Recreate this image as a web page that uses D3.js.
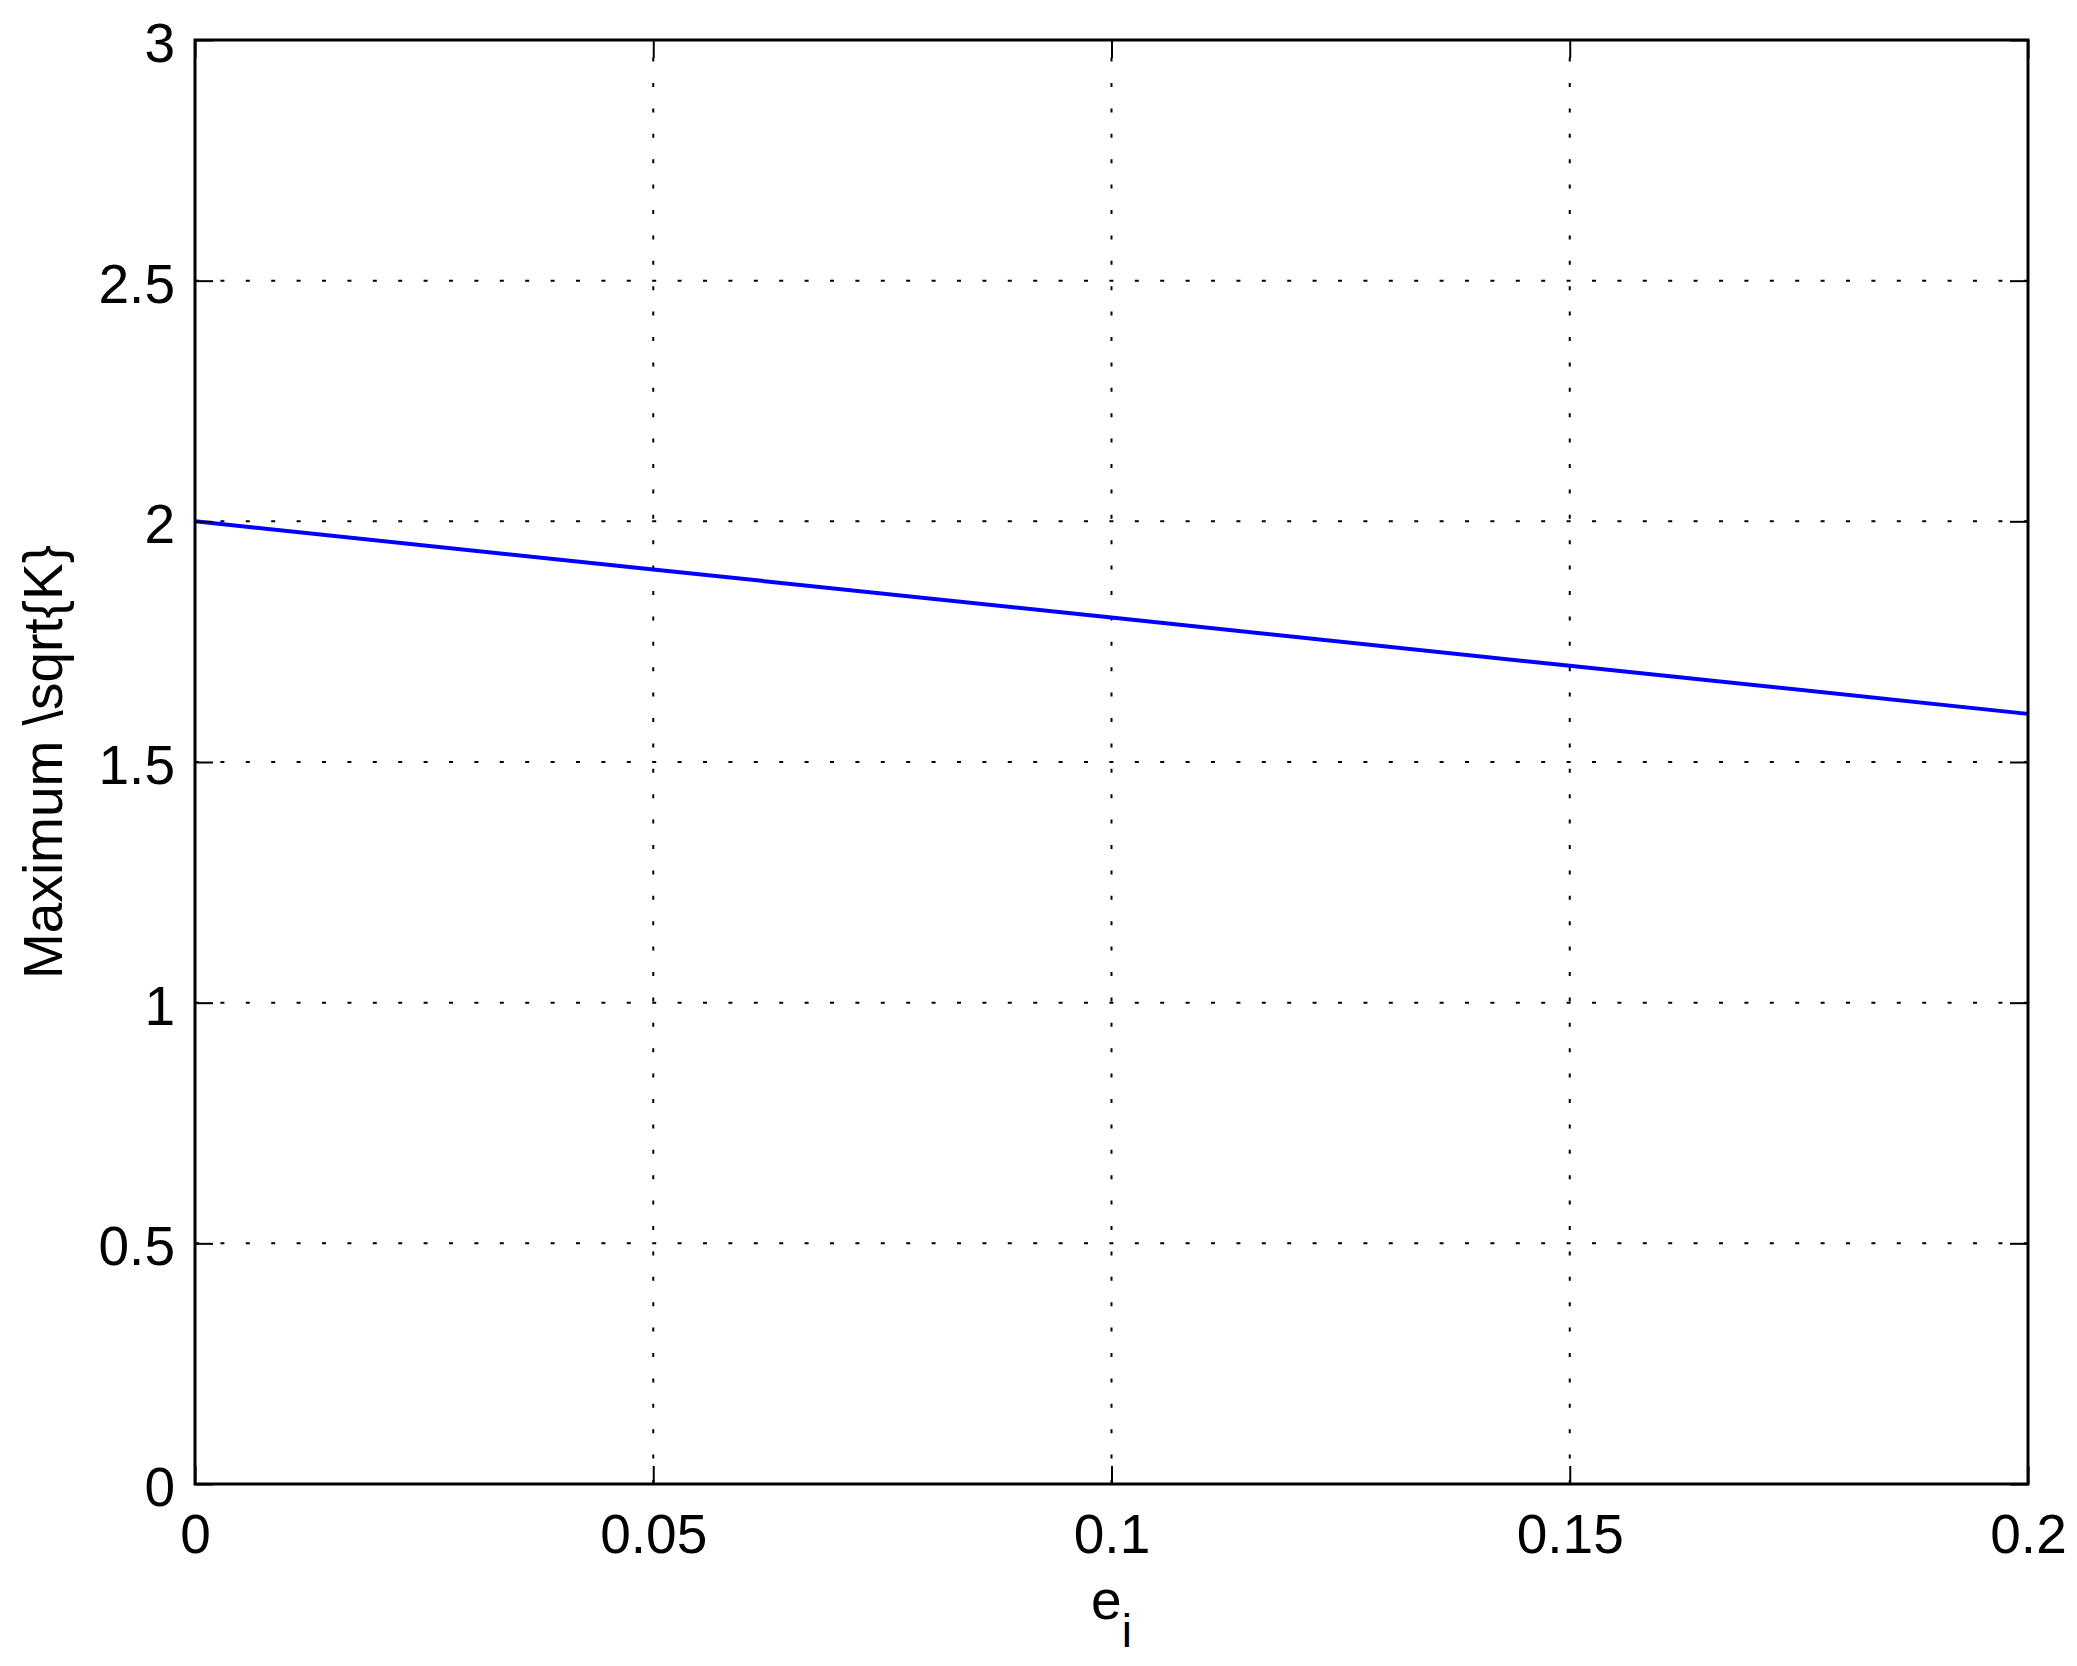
<!DOCTYPE html>
<html>
<head>
<meta charset="utf-8">
<script src="https://cdn.jsdelivr.net/npm/d3@7"></script>
<style>
  html, body { margin: 0; padding: 0; background: #fff; }
  svg { display: block; }
  text { font-family: "Liberation Sans", Arial, Helvetica, sans-serif; fill: #000; }
</style>
</head>
<body>
<svg id="chart" width="2077" height="1666"></svg>
<script>
// ---- data ----
const eValues = [0, 0.05, 0.1, 0.15, 0.2];
const maxSqrtK = [2.0, 1.9, 1.8, 1.7, 1.6];
const xTicks = [0, 0.05, 0.1, 0.15, 0.2];
const xTickLabels = ["0", "0.05", "0.1", "0.15", "0.2"];
const yTicks = [0, 0.5, 1, 1.5, 2, 2.5, 3];
const yTickLabels = ["0", "0.5", "1", "1.5", "2", "2.5", "3"];
const xLabelMain = "e";
const xLabelSub = "i";
const yLabel = "Maximum \\sqrt{K}";

// ---- layout ----
const W = 2077, H = 1666;
const L = 195, R = 2028, T = 40, B = 1484;
const fontSize = 55;
const tickLen = 18;

const svg = d3.select("#chart");
const x = d3.scaleLinear().domain([0, 0.2]).range([L, R]);
const y = d3.scaleLinear().domain([0, 3]).range([B, T]);

// grid
const grid = svg.append("g").attr("stroke", "#000").attr("stroke-width", 2)
  .attr("stroke-dasharray", "4,21.4").attr("fill", "none");
grid.selectAll("line.v").data(xTicks.slice(1, -1)).join("line")
  .attr("x1", d => x(d)).attr("x2", d => x(d))
  .attr("y1", B).attr("y2", T);
grid.selectAll("line.h").data(yTicks.slice(1, -1)).join("line")
  .attr("x1", L).attr("x2", R)
  .attr("y1", d => y(d)).attr("y2", d => y(d));

// data line
svg.append("path")
  .datum(eValues.map((e, i) => [e, maxSqrtK[i]]))
  .attr("fill", "none").attr("stroke", "#0000ff").attr("stroke-width", 4)
  .attr("d", d3.line().x(d => x(d[0])).y(d => y(d[1])));

// axes
function styleAxis(g) {
  g.select(".domain").remove();
  g.selectAll(".tick line").attr("stroke", "#000").attr("stroke-width", 2);
  g.selectAll("text").attr("font-size", fontSize).attr("fill", "#000")
    .attr("font-family", "Liberation Sans, Arial, sans-serif");
}
const xAxis = svg.append("g").attr("transform", `translate(0,${B})`)
  .call(d3.axisBottom(x).tickValues(xTicks).tickSize(-tickLen)
    .tickFormat((d, i) => xTickLabels[i]));
styleAxis(xAxis);
xAxis.selectAll("text").attr("y", 69).attr("dy", null);

const yAxis = svg.append("g").attr("transform", `translate(${L},0)`)
  .call(d3.axisLeft(y).tickValues(yTicks).tickSize(-tickLen)
    .tickFormat((d, i) => yTickLabels[i]));
styleAxis(yAxis);
yAxis.selectAll("text").attr("x", -20).attr("dy", "0.39em");

const xTop = svg.append("g").attr("transform", `translate(0,${T})`)
  .call(d3.axisTop(x).tickValues(xTicks).tickSize(-tickLen).tickFormat(""));
styleAxis(xTop);
const yRight = svg.append("g").attr("transform", `translate(${R},0)`)
  .call(d3.axisRight(y).tickValues(yTicks).tickSize(-tickLen).tickFormat(""));
styleAxis(yRight);

// frame
svg.append("rect").attr("x", L).attr("y", T).attr("width", R - L).attr("height", B - T)
  .attr("fill", "none").attr("stroke", "#000").attr("stroke-width", 3);

// axis labels
const xl = svg.append("text").attr("x", (L + R) / 2).attr("y", 1619)
  .attr("text-anchor", "middle").attr("font-size", fontSize);
xl.append("tspan").text(xLabelMain);
xl.append("tspan").attr("font-size", 46).attr("dy", 28).text(xLabelSub);

svg.append("text")
  .attr("transform", `translate(62,${(T + B) / 2}) rotate(-90)`)
  .attr("text-anchor", "middle").attr("font-size", fontSize)
  .text(yLabel);
</script>
</body>
</html>
